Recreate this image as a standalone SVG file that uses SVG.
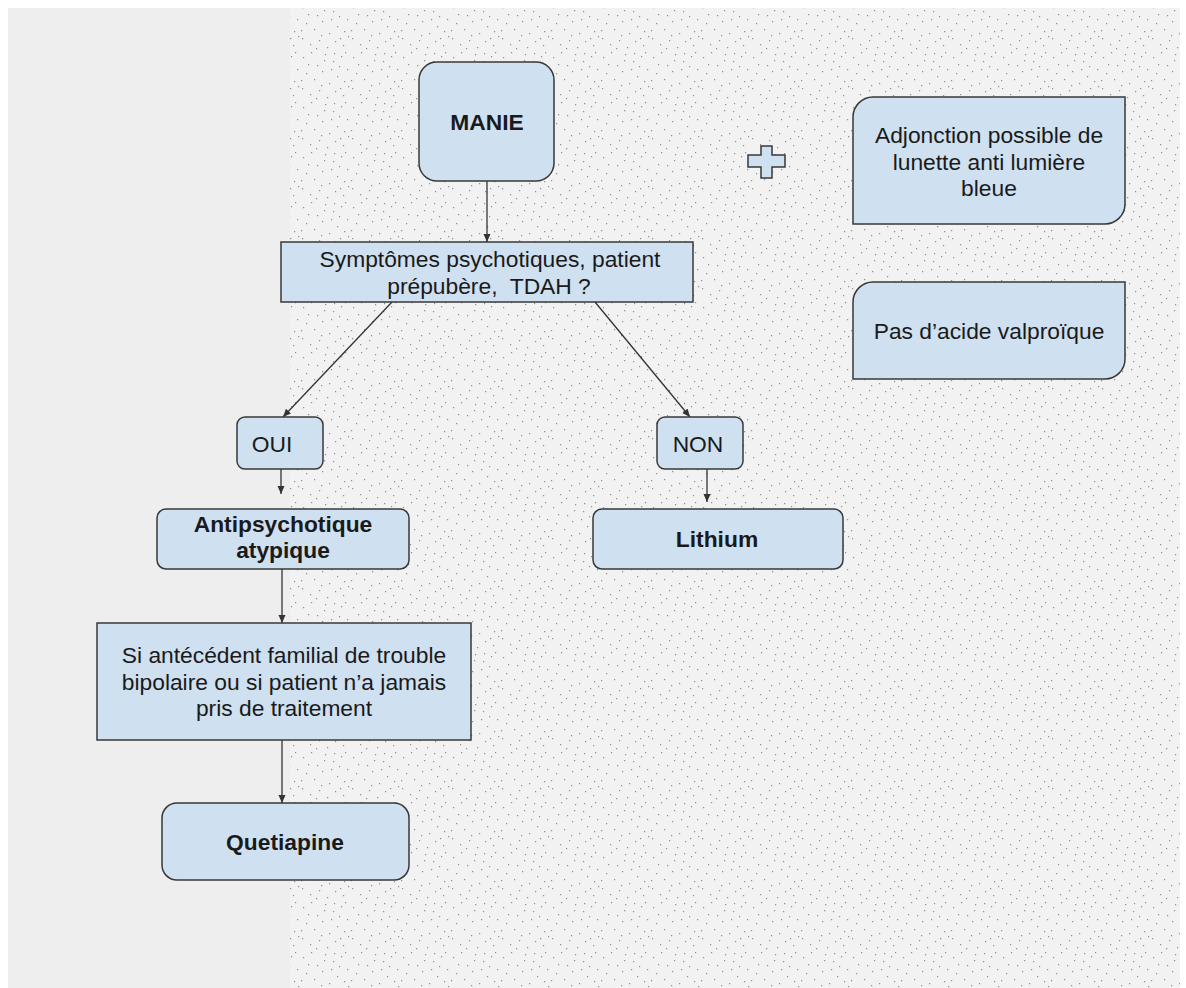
<svg xmlns="http://www.w3.org/2000/svg" width="1186" height="988" viewBox="0 0 1186 988">
  <style>
    .box { fill: #cfe0f1; stroke: #383838; stroke-width: 1.5; }
    .t { font-family: "Liberation Sans", Arial, sans-serif; font-size: 22.8px; fill: #1a1a1a; text-anchor: middle; }
    .b { font-weight: bold; }
    .conn { stroke: #333333; stroke-width: 1.3; fill: none; marker-end: url(#arrow); }
  </style>
  <defs>
    <marker id="arrow" markerUnits="userSpaceOnUse" markerWidth="9" markerHeight="8" refX="8" refY="3.5" orient="auto">
      <path d="M0,0 L8,3.5 L0,7 z" fill="#333333"/>
    </marker>
    <pattern id="noise" x="0" y="0" width="50" height="50" patternUnits="userSpaceOnUse">
      <path fill="#3c3c3c" fill-opacity="0.55" d="M3,7h1.2v1.2h-1.2z M11,2h1.2v1.2h-1.2z M17,15h1.2v1.2h-1.2z M25,4h1.2v1.2h-1.2z M33,11h1.2v1.2h-1.2z M41,6h1.2v1.2h-1.2z M47,19h1.2v1.2h-1.2z M6,23h1.2v1.2h-1.2z M14,29h1.2v1.2h-1.2z M22,21h1.2v1.2h-1.2z M29,33h1.2v1.2h-1.2z M37,26h1.2v1.2h-1.2z M44,31h1.2v1.2h-1.2z M2,38h1.2v1.2h-1.2z M10,44h1.2v1.2h-1.2z M19,40h1.2v1.2h-1.2z M27,47h1.2v1.2h-1.2z M35,41h1.2v1.2h-1.2z M43,45h1.2v1.2h-1.2z M48,36h1.2v1.2h-1.2z M8,14h1.2v1.2h-1.2z M31,19h1.2v1.2h-1.2z M39,16h1.2v1.2h-1.2z M16,48h1.2v1.2h-1.2z M24,10h1.2v1.2h-1.2z M45,2h1.2v1.2h-1.2z M1,30h1.2v1.2h-1.2z M21,35h1.2v1.2h-1.2z M34,3h1.2v1.2h-1.2z M40,38h1.2v1.2h-1.2z"/>
    </pattern>
  </defs>

  <rect x="0" y="0" width="1186" height="988" fill="#ffffff"/>
  <rect x="8" y="8" width="1172" height="980" fill="#eeeeee"/>
  <rect x="290" y="8" width="890" height="980" fill="#f2f2f2"/>
  <rect x="290" y="8" width="890" height="980" fill="url(#noise)"/>

  <g id="connectors">
    <line class="conn" x1="487" y1="181" x2="487" y2="242"/>
    <line class="conn" x1="392" y1="302" x2="283" y2="417"/>
    <line class="conn" x1="595" y1="302" x2="690" y2="417"/>
    <line class="conn" x1="281" y1="469" x2="281" y2="494"/>
    <line class="conn" x1="707" y1="469" x2="707" y2="502"/>
    <line class="conn" x1="282" y1="569" x2="282" y2="623"/>
    <line class="conn" x1="282" y1="740" x2="282" y2="803"/>
  </g>

  <g id="manie">
    <rect class="box" x="419" y="62" width="135" height="119" rx="18"/>
    <text class="t b" x="487" y="130">MANIE</text>
  </g>

  <g id="question">
    <rect class="box" x="281" y="242" width="412" height="60"/>
    <text class="t" x="490" y="267">Symptômes psychotiques, patient</text>
    <text class="t" x="489" y="294">prépubère,&#160; TDAH ?</text>
  </g>

  <g id="oui">
    <rect class="box" x="237" y="417" width="86" height="52" rx="8"/>
    <text class="t" x="272" y="452">OUI</text>
  </g>

  <g id="non">
    <rect class="box" x="657" y="417" width="86" height="52" rx="8"/>
    <text class="t" x="698" y="452">NON</text>
  </g>

  <g id="antipsychotique">
    <rect class="box" x="157" y="509" width="252" height="60" rx="9"/>
    <text class="t b" x="283" y="532">Antipsychotique</text>
    <text class="t b" x="283" y="558">atypique</text>
  </g>

  <g id="lithium">
    <rect class="box" x="593" y="509" width="250" height="60" rx="9"/>
    <text class="t b" x="717" y="547">Lithium</text>
  </g>

  <g id="antecedent">
    <rect class="box" x="97" y="623" width="374" height="117"/>
    <text class="t" x="284" y="663">Si antécédent familial de trouble</text>
    <text class="t" x="284" y="690">bipolaire ou si patient n’a jamais</text>
    <text class="t" x="284" y="716">pris de traitement</text>
  </g>

  <g id="quetiapine">
    <rect class="box" x="162" y="803" width="247" height="77" rx="15"/>
    <text class="t b" x="285" y="850">Quetiapine</text>
  </g>

  <g id="plus">
    <path class="box" d="M761,146 H772 V155 H785 V167 H772 V178 H761 V167 H748 V155 H761 Z"/>
  </g>

  <g id="lunette">
    <path class="box" d="M873,97 H1125 V204 A20,20 0 0 1 1105,224 H853 V117 A20,20 0 0 1 873,97 Z"/>
    <text class="t" x="989" y="143">Adjonction possible de</text>
    <text class="t" x="989" y="170">lunette anti lumière</text>
    <text class="t" x="989" y="196">bleue</text>
  </g>

  <g id="valproique">
    <path class="box" d="M873,282 H1125 V359 A20,20 0 0 1 1105,379 H853 V302 A20,20 0 0 1 873,282 Z"/>
    <text class="t" x="989" y="339">Pas d’acide valproïque</text>
  </g>
</svg>
